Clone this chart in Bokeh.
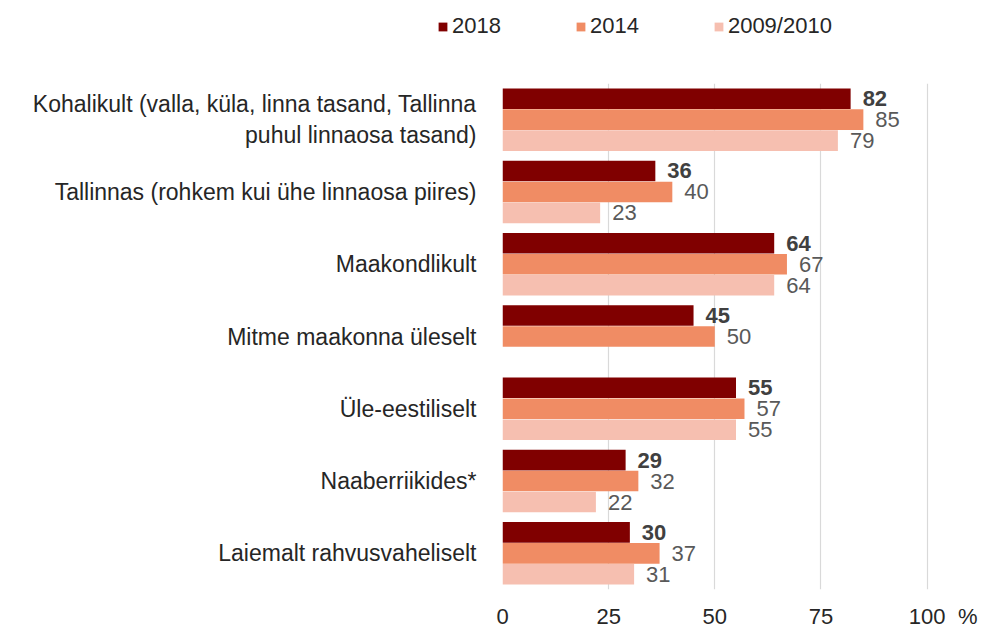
from bokeh.plotting import figure
from bokeh.layouts import column
from bokeh.models import (ColumnDataSource, FactorRange, Range1d, Legend, LegendItem,
                          FixedTicker)
from bokeh.transform import dodge
from bokeh.core.properties import value
from bokeh.embed import file_html
from bokeh.resources import INLINE

categories = [
    "Kohalikult (valla, küla, linna tasand, Tallinna\npuhul linnaosa tasand)",
    "Tallinnas (rohkem kui ühe linnaosa piires)",
    "Maakondlikult",
    "Mitme maakonna üleselt",
    "Üle-eestiliselt",
    "Naaberriikides*",
    "Laiemalt rahvusvaheliselt",
]
series_names = ["2018", "2014", "2009/2010"]
values_2018 = [82, 36, 64, 45, 55, 29, 30]
values_2014 = [85, 40, 67, 50, 57, 32, 37]
values_2009 = [79, 23, 64, None, 55, 22, 31]
x_ticks = [0, 25, 50, 75, 100]
unit_label = "%"
unit_pos = 109.6   # where the unit sign sits, right of the 100 tick

colors = ["#800000", "#F08C64", "#F6BFB0"]
offsets = [0.29, 0.0, -0.29]
FONT = "Liberation Sans"
W, H_TOP, H_MAIN = 983, 83, 548

# ---- legend strip -------------------------------------------------------
top = figure(width=W, height=H_TOP, output_backend="svg", toolbar_location=None,
             x_range=Range1d(0, W), y_range=Range1d(0, H_TOP),
             x_axis_location=None, y_axis_location=None,
             min_border=0, frame_align=False)
top.grid.visible = False
top.outline_line_color = None

# ---- main chart ---------------------------------------------------------
p = figure(width=W, height=H_MAIN, output_backend="svg", toolbar_location=None,
           y_range=FactorRange(factors=categories[::-1], range_padding=0, factor_padding=0),
           x_range=Range1d(0, 110), frame_align=False,
           min_border_left=502, min_border_right=14, min_border_top=0, min_border_bottom=37)
p.outline_line_color = None

items = []
all_vals = [values_2018, values_2014, values_2009]
for i, (name, vals) in enumerate(zip(series_names, all_vals)):
    src = ColumnDataSource(dict(
        cat=categories,
        val=[float("nan") if v is None else v for v in vals],
        txt=["" if v is None else str(v) for v in vals],
    ))
    p.hbar(y=dodge("cat", offsets[i], range=p.y_range), right="val", left=0,
           height=0.285, source=src, fill_color=colors[i], line_color=None)
    p.text(x="val", y=dodge("cat", offsets[i], range=p.y_range), text="txt", source=src,
           x_offset=12, text_baseline="middle", text_align="left",
           text_font=value(FONT), text_font_size="22px",
           text_font_style="bold" if i == 0 else "normal",
           text_color="#404040" if i == 0 else "#595959")
    # swatch-only renderer for the legend strip (zero width, outside the view)
    r = top.hbar(y=[-H_TOP], right=[0], left=0, height=1,
                 fill_color=colors[i], line_color=None)
    items.append(LegendItem(label=name, renderers=[r]))

legend = Legend(items=items, orientation="horizontal", location=(437, 44),
                padding=0, margin=0, spacing=74, glyph_width=11, glyph_height=11,
                label_standoff=4, label_text_font=FONT, label_text_font_size="22px",
                label_text_color="#262626", border_line_color=None,
                background_fill_alpha=0)
top.add_layout(legend, "center")

p.xaxis.ticker = FixedTicker(ticks=x_ticks + [unit_pos])
p.xaxis.major_label_overrides = {unit_pos: unit_label}
p.xaxis.axis_line_color = None
p.xaxis.major_tick_line_color = None
p.xaxis.minor_tick_line_color = None
p.xaxis.major_label_text_font = FONT
p.xaxis.major_label_text_font_size = "22px"
p.xaxis.major_label_text_color = "#262626"
p.xaxis.major_label_standoff = 8

p.yaxis.axis_line_color = None
p.yaxis.major_tick_line_color = None
p.yaxis.minor_tick_line_color = None
p.yaxis.major_label_text_font = FONT
p.yaxis.major_label_text_font_size = "23px"
p.yaxis.major_label_text_color = "#262626"
p.yaxis.major_label_standoff = 20

p.xgrid.ticker = FixedTicker(ticks=x_ticks)
p.xgrid.grid_line_color = "#D9D9D9"
p.xgrid.grid_line_width = 1.2
p.ygrid.grid_line_color = None

layout = column(top, p, spacing=0)
open("out.html", "w").write(file_html(layout, INLINE))
